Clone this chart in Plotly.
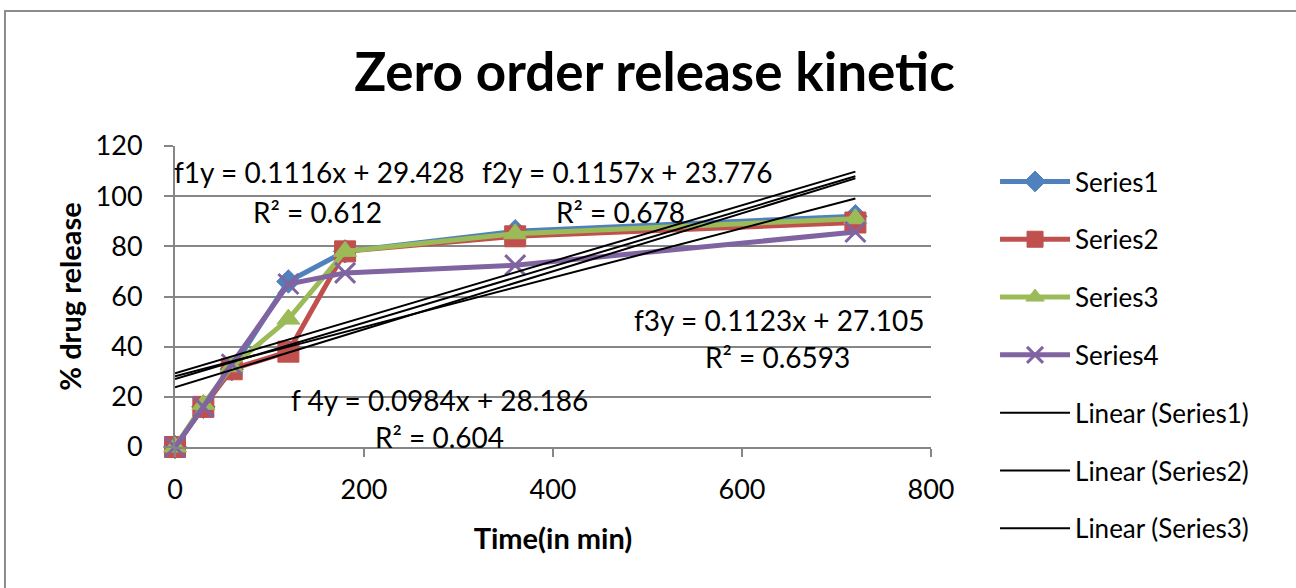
import plotly.graph_objects as go

# ---- data ----
time_min = [0, 30, 60, 120, 180, 360, 720]
series1 = [0, 16, 31, 66, 78, 86, 92]
series2 = [0, 16, 31, 38, 78, 84, 89.5]
series3 = [0, 17, 32, 51, 78, 85, 91]
series4 = [0, 16, 33, 65, 69.4, 72.5, 85.7]
series_names = ["Series1", "Series2", "Series3", "Series4"]
trend_slopes = [0.1116, 0.1157, 0.1123, 0.0984]
trend_intercepts = [29.428, 23.776, 27.105, 28.186]
trend_r2 = ["0.612", "0.678", "0.6593", "0.604"]
trend_labels = ["f1y", "f2y", "f3y", "f 4y"]
trend_x = [0, 720]

colors = ["#4F81BD", "#C0504D", "#9BBB59", "#8064A2"]
symbols = ["diamond", "square", "triangle-up", "x-thin"]
sizes = [18, 21, 20, 20]

FONT = "Lato, 'Open Sans', sans-serif"

fig = go.Figure()
for i, ys in enumerate([series1, series2, series3, series4]):
    fig.add_trace(go.Scatter(
        x=time_min, y=ys, name=series_names[i], mode="lines+markers",
        line=dict(color=colors[i], width=5),
        marker=dict(symbol=symbols[i], size=sizes[i], color=colors[i],
                    line=dict(color=colors[i], width=3 if i == 3 else 1)),
        legendgroup="g%d" % i, cliponaxis=False,
    ))

for i in range(4):
    ty = [trend_slopes[i] * x + trend_intercepts[i] for x in trend_x]
    fig.add_trace(go.Scatter(
        x=trend_x, y=ty, name="Linear (%s)" % series_names[i], mode="lines",
        line=dict(color="black", width=2),
        legendgroup="t%d" % i, showlegend=(i < 3),
    ))

# trendline equation labels
lab_pos = [((153, 109.6), (151, 93.7)), ((479, 109.6), (471, 93.7)),
           ((640, 50.6), (638, 35.9)), ((280, 18.7), (280, 4.0))]
for i in range(4):
    (ex, ey), (rx, ry) = lab_pos[i]
    fig.add_annotation(x=ex, y=ey, xref="x", yref="y", showarrow=False,
                       text="%s = %sx + %s" % (trend_labels[i], trend_slopes[i], trend_intercepts[i]),
                       font=dict(size=28, color="black", family=FONT))
    fig.add_annotation(x=rx, y=ry, xref="x", yref="y", showarrow=False,
                       text="R² = %s" % trend_r2[i],
                       font=dict(size=28, color="black", family=FONT))

# chart-area border
fig.add_shape(type="rect", xref="paper", yref="paper",
              x0=-0.2249, x1=1.6, y0=-0.6, y1=1.4485,
              line=dict(color="#8C8C8C", width=2), layer="below")

fig.update_layout(
    width=1296, height=588,
    margin=dict(l=175, r=365, t=146, b=141),
    paper_bgcolor="white", plot_bgcolor="white",
    font=dict(family=FONT, color="black", size=26),
    title=dict(text="<b>Zero order release kinetic</b>", x=0.505, xanchor="center",
               y=0.877, yanchor="middle", font=dict(size=53, family=FONT, color="black")),
    xaxis=dict(range=[0, 800], dtick=200, tick0=0, showgrid=False, zeroline=False,
               showline=True, linecolor="#868686", linewidth=2,
               ticks="outside", ticklen=8, tickcolor="#868686", tickwidth=2,
               ticklabelstandoff=10,
               tickfont=dict(size=27), title=dict(text="<b>Time(in min)</b>",
               font=dict(size=29), standoff=24)),
    yaxis=dict(range=[0, 120], dtick=20, tick0=0, showgrid=True, gridcolor="#868686",
               gridwidth=2, zeroline=False, showline=True, linecolor="#868686", linewidth=2,
               ticks="outside", ticklen=9, tickcolor="#868686", tickwidth=2,
               ticklabelstandoff=16,
               tickfont=dict(size=27), title=dict(text="<b>% drug release</b>",
               font=dict(size=29), standoff=5)),
    legend=dict(x=1.0847, xanchor="left", y=0.96, yanchor="top",
                font=dict(size=26), itemwidth=70, tracegroupgap=21,
                maxheight=560, bgcolor="rgba(0,0,0,0)"),
    showlegend=True,
)

fig.write_html("out.html")
